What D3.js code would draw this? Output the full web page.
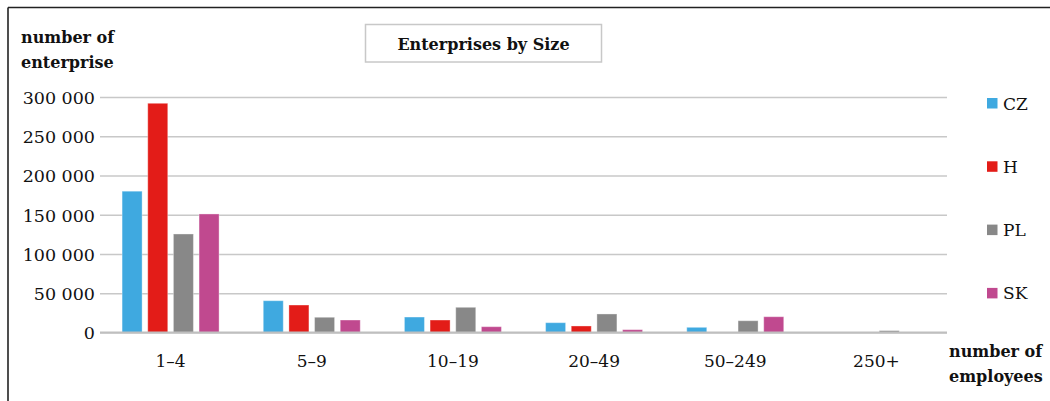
<!DOCTYPE html>
<html>
<head>
<meta charset="utf-8">
<script src="https://cdn.jsdelivr.net/npm/d3@7"></script>
<style>
  html, body { margin: 0; padding: 0; background: #fff; }
  svg { display: block; }
  text { font-family: "DejaVu Serif", serif; fill: #111; }
</style>
</head>
<body>
<svg id="chart" width="1050" height="401"></svg>
<script>
// Enterprise counts by number of employees
const sizeClasses = ["1–4", "5–9", "10–19", "20–49", "50–249", "250+"];
const countries = ["CZ", "H", "PL", "SK"];
const czValues = [180000, 40500, 19700, 12500, 6600, 400];
const hValues  = [292000, 35000, 15900, 8300, 0, 0];
const plValues = [125500, 19400, 32100, 23600, 15000, 2400];
const skValues = [151000, 15900, 7400, 3600, 20100, 0];
const yTicks = [0, 50000, 100000, 150000, 200000, 250000, 300000];
const colors = ["#3fa9e0", "#e31c18", "#888888", "#c0498f"];

const seriesValues = [czValues, hValues, plValues, skValues];
const rows = sizeClasses.map((c, i) => ({
  cls: c,
  values: countries.map((k, j) => ({ country: k, value: seriesValues[j][i] }))
}));

const svg = d3.select("#chart");
const plot = { left: 100, right: 947, top: 97, bottom: 332.5 };

const x0 = d3.scaleBand().domain(sizeClasses)
  .range([plot.left, plot.right]).paddingInner(0.313).paddingOuter(0.1565);
const x1 = d3.scaleBand().domain(countries)
  .range([0, x0.bandwidth()]).paddingInner(0.22).paddingOuter(0);
const y = d3.scaleLinear().domain([0, 300000]).range([plot.bottom, plot.top]);
const color = d3.scaleOrdinal().domain(countries).range(colors);

// frame lines (left and top)
svg.append("line").attr("x1", 8).attr("x2", 8).attr("y1", 7.5).attr("y2", 401)
  .attr("stroke", "#222").attr("stroke-width", 1.6);
svg.append("line").attr("x1", 8).attr("x2", 1050).attr("y1", 7.5).attr("y2", 7.5)
  .attr("stroke", "#222").attr("stroke-width", 1.6);

// horizontal gridlines and y tick labels
const yAxis = d3.axisLeft(y).tickValues(yTicks)
  .tickSize(-(plot.right - plot.left))
  .tickPadding(5)
  .tickFormat(d => d3.format(",")(d).replace(/,/g, " "));
const gy = svg.append("g").attr("transform", `translate(${plot.left},0)`).call(yAxis);
gy.select(".domain").remove();
gy.selectAll(".tick line").attr("stroke", "#c8c8c8").attr("stroke-width", 1.4);
gy.selectAll(".tick text").attr("font-size", 17.5).attr("font-family", "DejaVu Serif")
  .attr("fill", "#111").attr("dy", "0.36em");

// bars
const groups = svg.append("g").selectAll("g").data(rows).join("g")
  .attr("transform", d => `translate(${x0(d.cls)},0)`);
groups.selectAll("rect").data(d => d.values.filter(v => v.value > 0)).join("rect")
  .attr("x", d => x1(d.country))
  .attr("width", x1.bandwidth())
  .attr("y", d => y(d.value))
  .attr("height", d => y(0) - y(d.value))
  .attr("fill", d => color(d.country))
  .attr("stroke", "#fff").attr("stroke-opacity", 0.35).attr("stroke-width", 1);

// category axis
const xAxis = d3.axisBottom(x0).tickSize(0).tickPadding(22);
const gx = svg.append("g").attr("transform", `translate(0,${plot.bottom})`).call(xAxis);
gx.select(".domain").attr("stroke", "#bfbfbf").attr("stroke-width", 2.2)
  .attr("d", `M${plot.left},0H${plot.right}`);
gx.selectAll(".tick text").attr("font-size", 17).attr("font-family", "DejaVu Serif")
  .attr("fill", "#111");

// title box
svg.append("rect").attr("x", 365.5).attr("y", 24.5).attr("width", 236).attr("height", 37.5)
  .attr("fill", "#fff").attr("stroke", "#c8c8c8").attr("stroke-width", 1.5);
svg.append("text").attr("x", 483.5).attr("y", 50).attr("text-anchor", "middle")
  .attr("font-size", 16).attr("font-weight", "bold").text("Enterprises by Size");

// axis titles
const yTitle = svg.append("text").attr("x", 21).attr("y", 43)
  .attr("font-size", 16).attr("font-weight", "bold");
yTitle.append("tspan").attr("x", 21).text("number of");
yTitle.append("tspan").attr("x", 21).attr("dy", 25).text("enterprise");

const xTitle = svg.append("text").attr("x", 949).attr("y", 357)
  .attr("font-size", 16).attr("font-weight", "bold");
xTitle.append("tspan").attr("x", 949).text("number of");
xTitle.append("tspan").attr("x", 949).attr("dy", 25).text("employees");

// legend
const legend = svg.append("g").selectAll("g").data(countries).join("g")
  .attr("transform", (d, i) => `translate(987,${98 + i * 63.3})`);
legend.append("rect").attr("width", 10.5).attr("height", 10.5).attr("fill", d => color(d));
legend.append("text").attr("x", 16).attr("y", 11.5).attr("font-size", 17).text(d => d);
</script>
</body>
</html>
